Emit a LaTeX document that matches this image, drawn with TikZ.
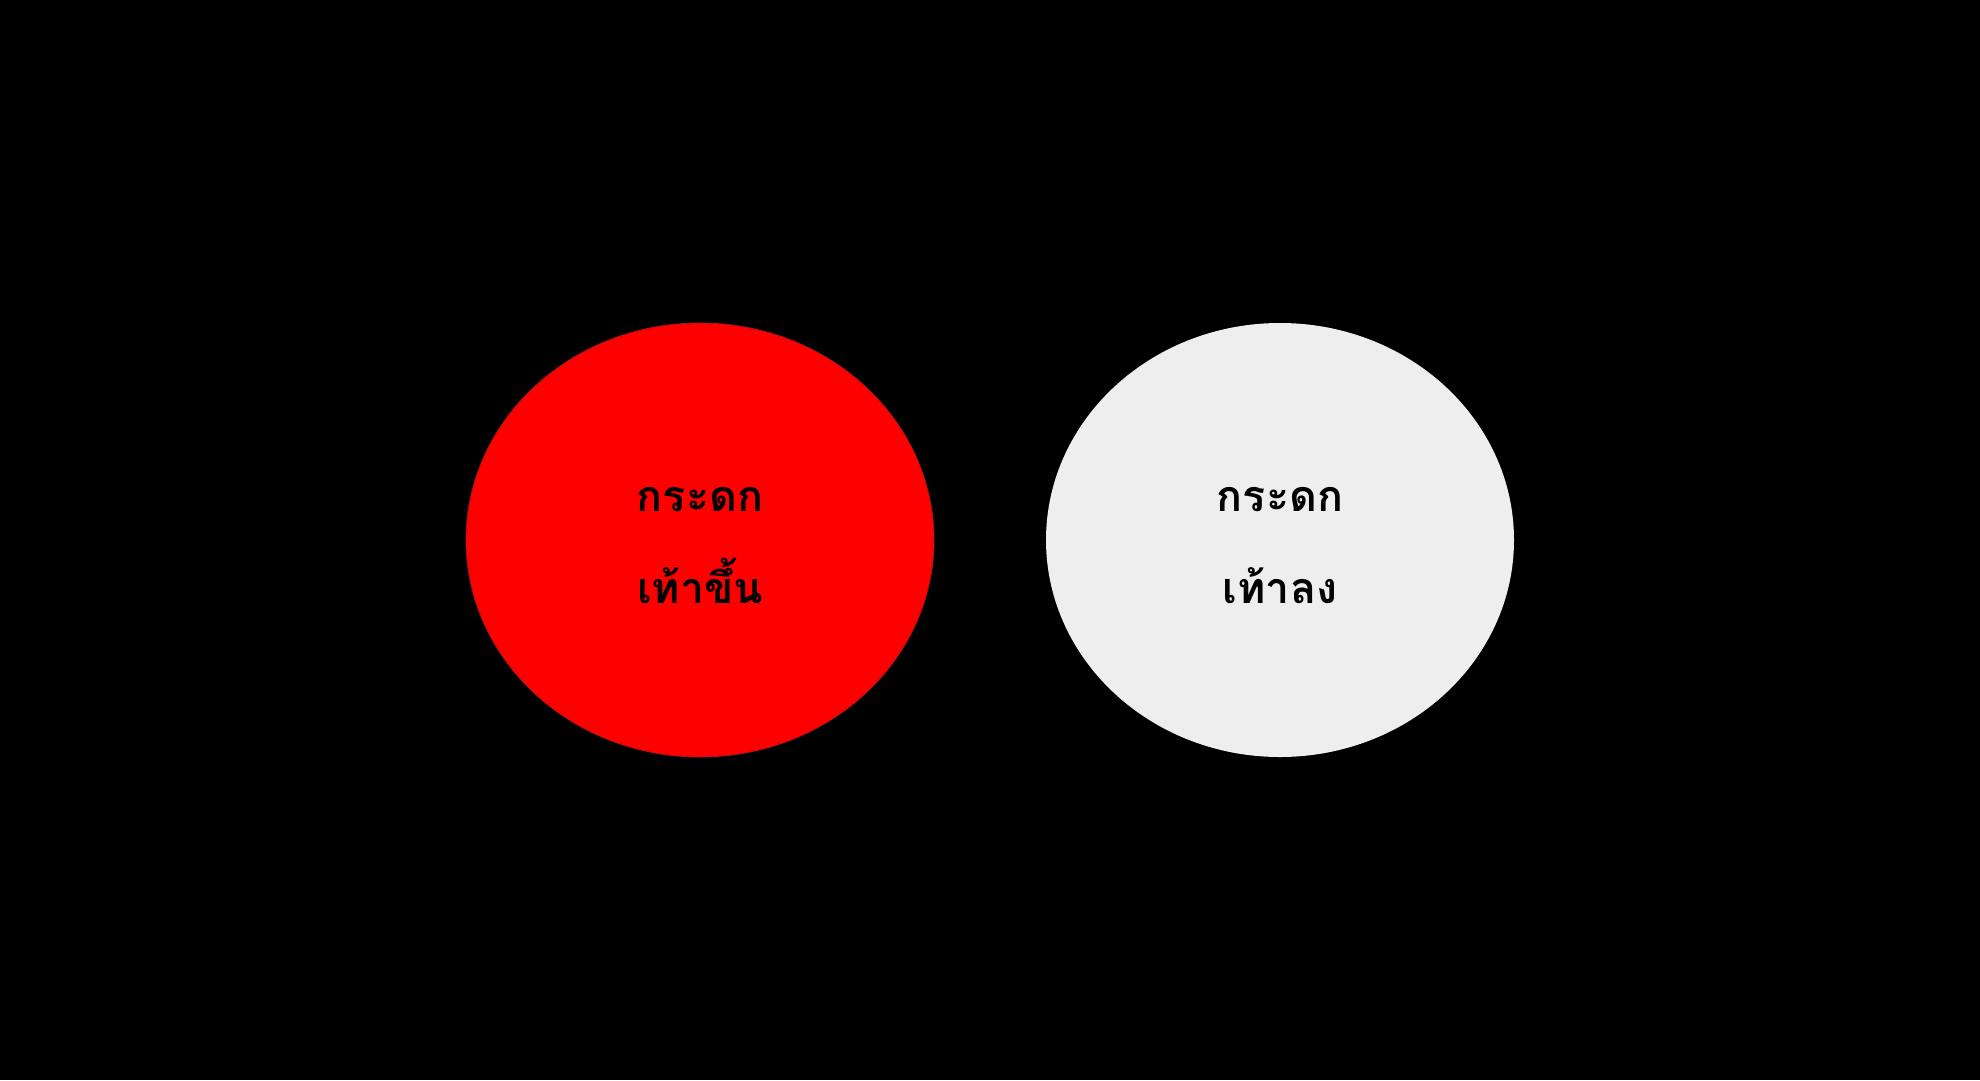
\documentclass[tikz,border=0pt]{standalone}
\usepackage{fontspec}
\newfontfamily\thaifont[Script=Thai]{Loma}
\usetikzlibrary{shapes.geometric}
\tikzset{
  disc/.style={ellipse, minimum width=468pt, minimum height=434pt, inner sep=0pt},
  thaitext/.style={font=\thaifont\bfseries\fontsize{43pt}{92pt}\selectfont, text=black, align=center, inner sep=0pt}
}
\begin{document}
\begin{tikzpicture}[x=1pt,y=-1pt]
\fill[black] (0,0) rectangle (1980,1080);
\useasboundingbox (0,0) rectangle (1980,1080);
\node[disc, fill=red, draw={rgb,255:red,170;green,20;blue,20}, line width=0.8pt] (up) at (700,540) {};
\node[disc, fill={rgb,255:red,238;green,238;blue,238}] (down) at (1280,540) {};
\node[thaitext] (uptext) at (700,546) {กระดก\\เท้าขึ้น};
\node[thaitext] (downtext) at (1280,546) {กระดก\\เท้าลง};
\end{tikzpicture}
\end{document}
